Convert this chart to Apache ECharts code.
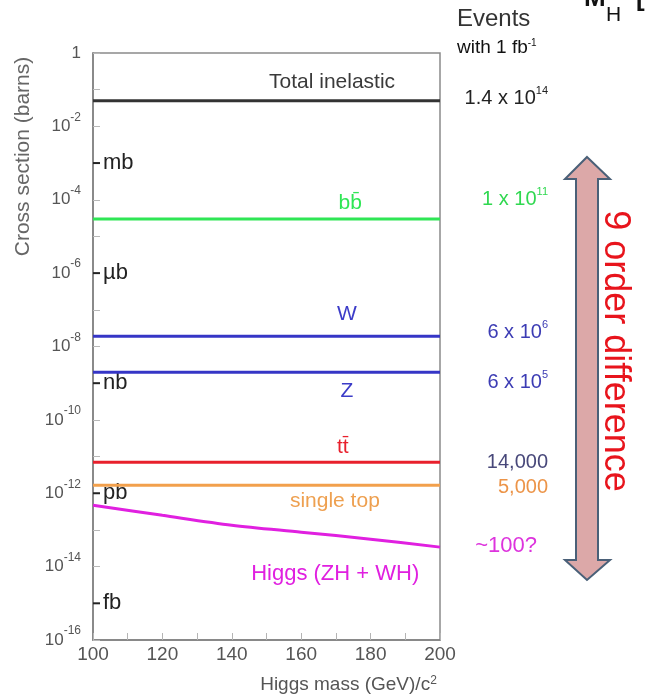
<!DOCTYPE html>
<html>
<head>
<meta charset="utf-8">
<script src="https://cdn.jsdelivr.net/npm/echarts@6/dist/echarts.min.js"></script>
<style>
  html, body { margin: 0; padding: 0; background: #ffffff; }
  #chart { width: 647px; height: 699px; }
</style>
</head>
<body>
<div id="chart"></div>
<script>
// Hadron-collider production cross sections (barns) against Higgs mass,
// with the number of events expected for 1 fb^-1 of data.

const processNames = ['Total inelastic', 'bb\u0304', 'W', 'Z', 'tt\u0304', 'single top'];
const crossSections = [0.05, 3.0e-5, 1.9e-8, 2.0e-9, 7.0e-12, 1.65e-12]; // barns
const eventCounts = ['1.4 x 10^14', '1 x 10^11', '6 x 10^6', '6 x 10^5', '14,000', '5,000'];

const higgsName = 'Higgs (ZH + WH)';
const higgsEvents = '~100?';
const higgsMass = [100, 120, 140, 160, 180, 200];                          // GeV/c^2
const higgsCrossSection = [4.7e-13, 2.5e-13, 1.35e-13, 8.7e-14, 5.6e-14, 3.4e-14]; // barns

const massRange = [100, 200];
const decadeRange = [-16, 0];
const unitLabels = { '-3': 'mb', '-6': '\u00b5b', '-9': 'nb', '-12': 'pb', '-15': 'fb' };

// ---- styling ----
const FONT = '"Liberation Sans", Arial, sans-serif';
const lineColors  = ['#333333', '#2fe655', '#3535c6', '#3535c6', '#e8202c', '#f2a04c'];
const eventColors = ['#222222', '#30d850', '#3c3cb4', '#3c3cb4', '#48487a', '#ec9448'];
const nameColors  = ['#3a3a3a', '#2fe655', '#3c3cc8', '#3c3cc8', '#e8202c', '#eea050'];
const nameAnchorMass = [168.9, 174.1, 173.2, 173.2, 172.0, 169.7];
const nameOffsetY = [-19, -16, -22, 19, -15, 16];
const eventOffsetY = [-2, -19, -4, 10, 0, 2];
const higgsColor = '#e020e0';

const lg = Math.log10;

// "10^14" -> rich text with a raised exponent
function supText(s) {
  const i = s.indexOf('^');
  return i < 0 ? '{n|' + s + '}' : '{n|' + s.slice(0, i) + '}{s|' + s.slice(i + 1) + '}';
}
const eventRich = {
  n: { fontSize: 20, lineHeight: 26, fontFamily: FONT },
  s: { fontSize: 11, lineHeight: 13, verticalAlign: 'top', fontFamily: FONT }
};

const series = processNames.map((name, i) => ({
  name: name,
  type: 'line',
  yAxisIndex: 0,
  symbol: 'none',
  data: massRange.map(m => [m, lg(crossSections[i])]),
  lineStyle: { color: lineColors[i], width: 3 },
  itemStyle: { color: lineColors[i] },
  endLabel: {
    show: true,
    formatter: supText(eventCounts[i]),
    align: 'right',
    distance: 108,
    offset: [0, eventOffsetY[i]],
    color: eventColors[i],
    rich: eventRich
  },
  markPoint: {
    symbol: 'circle',
    symbolSize: 0,
    data: [{ coord: [nameAnchorMass[i], lg(crossSections[i])] }],
    label: {
      show: true,
      formatter: name,
      offset: [0, nameOffsetY[i]],
      color: nameColors[i],
      fontSize: 21,
      fontFamily: FONT
    }
  }
}));

series.push({
  name: higgsName,
  type: 'line',
  yAxisIndex: 0,
  symbol: 'none',
  smooth: 0.3,
  data: higgsMass.map((m, i) => [m, lg(higgsCrossSection[i])]),
  lineStyle: { color: higgsColor, width: 3 },
  itemStyle: { color: higgsColor },
  endLabel: {
    show: true,
    formatter: '{h|' + higgsEvents + '}',
    align: 'right',
    distance: 97,
    offset: [0, -1],
    color: '#dd33dd',
    rich: { h: { fontSize: 22, lineHeight: 26, fontFamily: FONT } }
  },
  markPoint: {
    symbol: 'circle',
    symbolSize: 0,
    data: [{ coord: [higgsMass[3], lg(higgsCrossSection[3])] }],
    label: {
      show: true,
      formatter: higgsName,
      offset: [34, 42],
      color: higgsColor,
      fontSize: 22,
      fontFamily: FONT
    }
  }
});

const chart = echarts.init(document.getElementById('chart'), null, { renderer: 'canvas' });

chart.setOption({
  animation: false,
  backgroundColor: '#ffffff',
  textStyle: { fontFamily: FONT },
  grid: {
    left: 93, right: 207, top: 53, bottom: 58,
    show: true, borderColor: '#8a8a8a', borderWidth: 1.5
  },
  xAxis: {
    type: 'value',
    min: massRange[0], max: massRange[1], interval: 10,
    axisLine: { show: true, onZero: false, lineStyle: { color: '#808080', width: 1.5 } },
    axisTick: { show: true, inside: true, length: 7, lineStyle: { color: '#b4b4b4', width: 1 } },
    splitLine: { show: false },
    axisLabel: {
      formatter: v => (v % 20 === 0 ? String(v) : ''),
      fontSize: 19, color: '#555555', margin: 5, fontFamily: FONT
    },
    name: 'Higgs mass (GeV)/c{sup|2}',
    nameLocation: 'middle',
    nameGap: 35,
    nameTextStyle: {
      fontSize: 19, color: '#555555', fontFamily: FONT,
      padding: [0, 0, 0, 164],
      rich: { sup: { fontSize: 12, lineHeight: 10, verticalAlign: 'top', color: '#555555' } }
    }
  },
  yAxis: [
    {
      type: 'value',
      min: decadeRange[0], max: decadeRange[1], interval: 1,
      axisLine: { show: true, onZero: false, lineStyle: { color: '#808080', width: 1.5 } },
      axisTick: { show: true, inside: true, length: 7, lineStyle: { color: '#b8b8b8', width: 1 } },
      splitLine: { show: false },
      axisLabel: {
        margin: 12,
        formatter: v => {
          const n = Math.round(v);
          if (n % 2 !== 0) return '';
          return n === 0 ? '{b|1}' : '{b|10}{s|' + n + '}';
        },
        rich: {
          b: { fontSize: 17, lineHeight: 30, color: '#555555', fontFamily: FONT },
          s: { fontSize: 12, lineHeight: 12, verticalAlign: 'top', color: '#555555', fontFamily: FONT }
        }
      },
      name: 'Cross section (barns)',
      nameLocation: 'middle',
      nameRotate: 90,
      nameGap: 50,
      nameTextStyle: {
        fontSize: 21, color: '#666666', fontFamily: FONT,
        padding: [0, 0, 0, 380]
      }
    },
    {
      // unit marks (mb, µb, nb, pb, fb) drawn inside the frame
      type: 'value',
      min: decadeRange[0], max: decadeRange[1], interval: 1,
      position: 'left',
      axisLine: { show: false },
      axisTick: { show: false },
      splitLine: { show: false },
      axisLabel: {
        inside: true,
        margin: 0,
        formatter: v => {
          const u = unitLabels[String(Math.round(v))];
          return u ? '{t| }{u|' + u + '}' : '';
        },
        rich: {
          t: { width: 7, height: 2, backgroundColor: '#222222', fontSize: 2 },
          u: { fontSize: 22, color: '#222222', padding: [0, 0, 0, 3], fontFamily: FONT }
        }
      }
    }
  ],
  series: series,
  graphic: [
    {
      type: 'text', x: 457, y: 19,
      style: { text: 'Events', fontSize: 24, fontFamily: FONT, fill: '#333333',
               align: 'left', verticalAlign: 'middle', textAlign: 'left', textVerticalAlign: 'middle' }
    },
    {
      type: 'text', x: 457, y: 48,
      style: {
        text: 'with 1 fb{s|-1}', fontSize: 19, fontFamily: FONT, fill: '#111111',
        align: 'left', verticalAlign: 'middle', textAlign: 'left', textVerticalAlign: 'middle',
        rich: { s: { fontSize: 10, lineHeight: 10, verticalAlign: 'top', fill: '#111111', fontFamily: FONT } }
      }
    },
    {
      type: 'text', x: 584, y: 12,
      style: { text: 'M', fontSize: 26, fontWeight: 'bold', fontFamily: FONT, fill: '#111111',
               align: 'left', verticalAlign: 'bottom', textAlign: 'left', textVerticalAlign: 'bottom' }
    },
    {
      type: 'text', x: 606, y: 26,
      style: { text: 'H', fontSize: 21, fontFamily: FONT, fill: '#111111',
               align: 'left', verticalAlign: 'bottom', textAlign: 'left', textVerticalAlign: 'bottom' }
    },
    {
      type: 'text', x: 636, y: 12,
      style: { text: '[', fontSize: 26, fontWeight: 'bold', fontFamily: FONT, fill: '#111111',
               align: 'left', verticalAlign: 'bottom', textAlign: 'left', textVerticalAlign: 'bottom' }
    },
    {
      // double-headed arrow spanning the rate range
      type: 'polygon',
      shape: {
        points: [
          [587, 157], [610, 179], [598, 179], [598, 560], [610, 560],
          [587, 580], [565, 560], [576, 560], [576, 179], [565, 179]
        ]
      },
      style: { fill: '#dca8a8', stroke: '#4a6078', lineWidth: 2 }
    },
    {
      type: 'text', x: 615, y: 351, rotation: -Math.PI / 2,
      style: { text: '9 order difference', fontSize: 36, fontFamily: FONT, fill: '#e8141c',
               align: 'center', verticalAlign: 'middle', textAlign: 'center', textVerticalAlign: 'middle' }
    }
  ]
});
</script>
</body>
</html>
